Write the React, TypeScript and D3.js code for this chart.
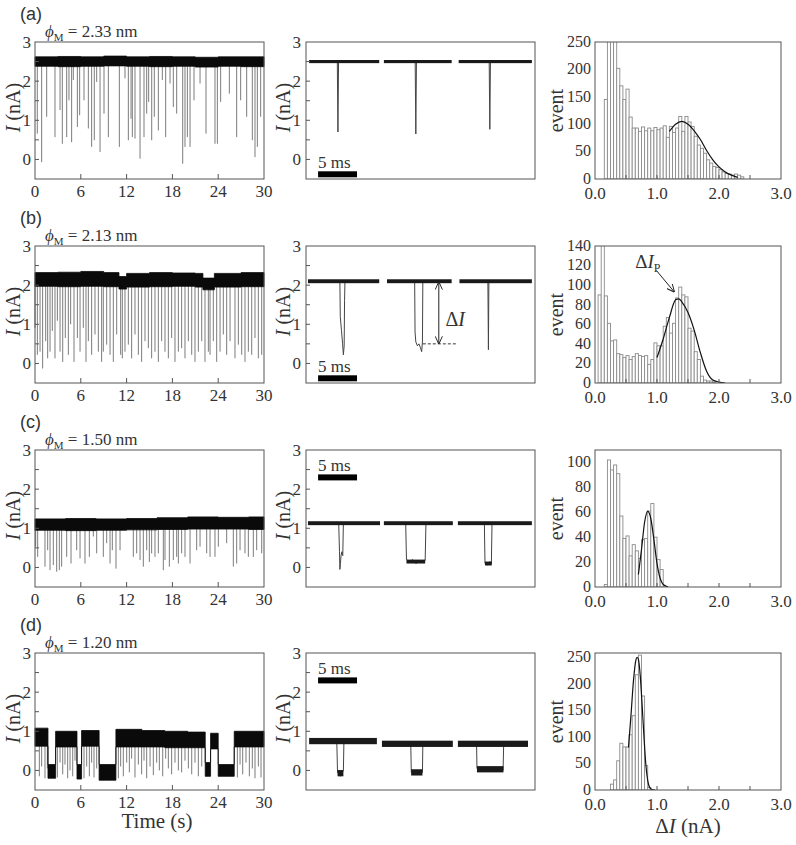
import React from "react"
import * as d3 from "d3"

type Pt = number[]

const serif = "Liberation Serif, Times New Roman, serif"
const sans = "Liberation Sans, Arial, sans-serif"
const ink = "#333"
const frameColor = "#555"

const W = 796
const H = 845
const rowTops = [42, 246, 450, 653]
const rowH = 137

// ---- column 1 : 30 s current traces ----
const timeTicks = [0, 6, 12, 18, 24, 30]
const currentTicks = [0, 1, 2, 3]
const minorCurrent = [0, 0.5, 1, 1.5, 2, 2.5]

// open-pore band envelope [t (s), low (nA), high (nA)]
const bandA = [[0, 2.38, 2.62], [3, 2.37, 2.63], [6, 2.38, 2.62], [9, 2.39, 2.64], [12, 2.38, 2.62], [15, 2.37, 2.63], [18, 2.38, 2.62], [21, 2.36, 2.61], [24, 2.38, 2.62], [27, 2.37, 2.62], [30, 2.37, 2.62]]
const bandB = [[0, 1.97, 2.32], [3, 1.96, 2.33], [6, 1.97, 2.35], [9, 1.96, 2.32], [11, 1.9, 2.22], [12, 1.95, 2.3], [15, 1.96, 2.32], [18, 1.97, 2.31], [21, 1.95, 2.3], [22, 1.88, 2.18], [23.5, 1.95, 2.3], [27, 1.96, 2.32], [30, 1.96, 2.32]]
const bandC = [[0, 0.95, 1.24], [4, 0.94, 1.25], [8, 0.95, 1.24], [12, 0.96, 1.25], [16, 0.97, 1.27], [20, 0.98, 1.29], [24, 0.98, 1.28], [28, 0.97, 1.29], [30, 0.97, 1.29]]
const bandD = [[0, 0.62, 1.08], [1.7, -0.2, 0.15], [2.7, 0.6, 1.0], [5.5, -0.22, 0.15], [6.1, 0.62, 1.02], [8.4, -0.25, 0.15], [10.6, 0.6, 1.05], [14, 0.6, 1.02], [17, 0.58, 1.0], [20, 0.58, 0.98], [22.3, -0.15, 0.2], [23.0, 0.55, 0.95], [24.0, -0.15, 0.15], [26.1, 0.6, 1.0], [30, 0.6, 1.0]]

// blockade spikes [t (s), lowest current (nA)]
const spikesA = [[0.3, 0.66], [0.87, -0.07], [1.53, 1.09], [2.62, 0.57], [3.28, 1.26], [3.58, 0.4], [4.15, 0.57], [4.45, 1.51], [4.8, 0.44], [5.02, 2.03], [5.55, 0.83], [5.85, 1.13], [6.42, 1.51], [6.99, 0.79], [7.42, 0.32], [7.77, 0.49], [8.08, 1.98], [8.52, 0.19], [9.04, 1.17], [9.61, 0.57], [11.05, 0.32], [11.79, 2.07], [12.23, 0.49], [12.58, 1.04], [12.75, 0.57], [13.1, 0.53], [13.76, 0.02], [14.28, 0.57], [14.63, 1.17], [14.89, 1.47], [15.29, 0.49], [15.63, 1.09], [16.16, 0.74], [16.68, 2.03], [17.12, 0.57], [17.69, 1.94], [18.12, 1.34], [18.56, 1.17], [19.35, -0.11], [19.65, 0.32], [19.96, 0.57], [20.31, 0.32], [20.83, 1.51], [21.62, 1.94], [22.4, 0.66], [23.58, 0.4], [23.89, 0.4], [24.32, 1.47], [25.46, 1.68], [26.42, 0.57], [26.94, 1.51], [27.73, 1.09], [28.47, 0.49], [28.82, 0.06], [29.13, 0.32], [29.56, 1.09]]
const spikesB = [[0.0, 0.91], [0.31, 0.22], [0.66, 0.3], [1.0, -0.13], [1.4, 0.57], [1.66, 0.13], [1.97, 0.3], [2.27, 0.83], [2.62, 0.13], [2.93, 1.09], [3.28, 0.3], [3.63, 0.04], [3.97, 0.65], [4.37, 0.22], [4.67, 1.0], [5.11, 0.04], [5.55, 0.65], [5.9, 0.3], [6.33, 0.91], [6.68, 0.04], [6.99, 0.57], [7.42, 0.22], [7.86, 0.74], [8.3, 0.3], [8.73, 0.04], [8.95, 0.3], [9.39, 0.48], [9.83, 0.22], [10.26, 0.04], [10.7, 0.74], [11.22, 0.22], [11.44, 0.13], [11.79, 0.3], [12.23, 0.48], [12.66, 0.13], [13.1, 0.74], [13.54, 0.22], [13.97, 0.04], [14.41, 0.57], [14.85, 0.39], [15.28, 0.13], [15.72, 0.3], [16.16, 0.04], [16.59, 0.57], [17.03, 0.3], [17.47, 0.13], [17.9, 0.65], [18.34, 0.04], [18.78, 0.3], [19.21, 0.39], [19.65, 0.13], [20.09, 0.57], [20.53, 0.22], [20.96, 0.04], [21.4, 0.3], [21.84, 0.57], [22.27, 0.04], [22.71, 0.3], [22.93, 0.22], [23.36, 0.57], [23.8, 0.04], [24.24, 0.3], [24.67, 0.74], [25.11, 0.22], [25.55, 0.57], [26.2, 0.13], [26.64, 0.48], [27.08, 0.22], [27.51, 0.04], [27.95, 0.3], [28.39, 0.22], [28.82, 0.65], [29.26, 0.13], [29.7, 0.22]]
const spikesC = [[0.09, 0.53], [0.35, 0.27], [1.31, 0.02], [1.66, 0.44], [1.97, -0.07], [2.4, 0.06], [2.84, -0.11], [3.19, -0.07], [3.49, 0.02], [4.15, 0.27], [4.72, 0.1], [5.46, 0.44], [5.9, 0.23], [6.55, 0.1], [7.12, 0.27], [7.64, 0.79], [8.08, 0.36], [8.95, 0.27], [9.39, 0.62], [9.83, 0.1], [10.13, 0.44], [10.61, -0.03], [11.14, 0.44], [12.88, 0.27], [13.32, 0.36], [13.76, 0.19], [14.19, 0.02], [14.63, 0.44], [14.98, 0.14], [15.28, 0.36], [15.72, 0.27], [16.16, 0.36], [16.81, -0.07], [17.03, 0.19], [17.6, 0.02], [18.12, 0.19], [18.56, 0.27], [18.78, 0.1], [19.21, 0.36], [19.65, 0.27], [20.31, 0.1], [21.18, 0.44], [21.62, 0.53], [22.49, 0.36], [22.93, 0.27], [23.58, 0.27], [24.02, 0.53], [25.11, 0.62], [25.98, 0.02], [26.42, 0.1], [26.86, 0.44], [27.51, 0.36], [27.95, 0.27], [28.6, 0.27], [29.04, 0.44], [29.7, 0.36]]
const spikesD = [[0.57, -0.15], [0.87, 0.1], [1.31, -0.2], [1.62, 0.05], [2.93, -0.18], [3.28, 0.2], [3.63, -0.1], [3.93, 0.15], [4.28, -0.2], [4.59, 0.0], [4.94, -0.15], [5.24, 0.25], [6.42, -0.2], [6.77, 0.1], [7.12, -0.15], [7.42, 0.2], [7.73, -0.18], [8.08, 0.05], [10.92, -0.2], [11.22, 0.1], [11.57, -0.15], [12.01, 0.2], [12.36, -0.05], [12.66, 0.3], [13.1, -0.18], [13.54, 0.15], [13.97, -0.1], [14.28, 0.25], [14.63, -0.2], [15.07, 0.1], [15.5, -0.12], [15.94, 0.2], [16.29, 0.0], [16.73, -0.15], [17.12, 0.3], [17.47, 0.05], [17.9, -0.1], [18.34, 0.2], [18.78, 0.0], [19.21, -0.05], [19.65, 0.25], [20.09, 0.05], [20.53, -0.1], [20.96, 0.2], [21.4, -0.15], [21.84, 0.1], [26.51, -0.18], [26.86, 0.15], [27.21, -0.1], [27.64, 0.2], [28.08, -0.15], [28.47, 0.05], [28.82, -0.2], [29.26, 0.1], [29.61, -0.18]]

// ---- column 2 : ms zoom of three events ----
// level stretches [t0 (ms), t1 (ms), current (nA)]
const zoomBandsA = [[0.4, 9.4, 2.5], [10.0, 18.7, 2.5], [19.6, 29.0, 2.5]]
const zoomBandsB = [[0.25, 9.4, 2.1], [10.4, 18.7, 2.1], [19.7, 29.0, 2.1]]
const zoomBandsC = [[0.25, 9.5, 1.13], [10.0, 18.85, 1.13], [19.5, 29.0, 1.13], [12.9, 15.3, 0.15], [22.98, 23.85, 0.1]]
const zoomBandsD = [[0.4, 9.1, 0.75], [9.75, 18.85, 0.68], [19.5, 28.5, 0.68], [4.05, 4.8, -0.07], [13.5, 14.95, -0.05], [21.95, 25.35, 0.03]]
// event shapes [t (ms), current (nA)]
const zoomEventsA = [
  [[4.02, 2.5], [4.1, 0.7], [4.18, 2.5]],
  [[14.02, 2.5], [14.1, 0.65], [14.18, 2.5]],
  [[23.52, 2.5], [23.6, 0.77], [23.68, 2.5]],
]
const zoomEventsB = [
  [[4.35, 2.1], [4.4, 1.2], [4.55, 0.85], [4.7, 0.5], [4.8, 0.22], [4.9, 0.45], [4.95, 1.6], [5.0, 2.1]],
  [[13.95, 2.1], [14.0, 0.8], [14.1, 0.55], [14.3, 0.45], [14.5, 0.5], [14.7, 0.4], [14.85, 0.3], [14.95, 0.55], [15.0, 2.1]],
  [[23.35, 2.1], [23.42, 0.35], [23.48, 2.1]],
]
const zoomEventsC = [
  [[4.2, 1.13], [4.3, 0.4], [4.35, -0.05], [4.42, 0.1], [4.5, 0.3], [4.6, 0.4], [4.72, 0.3], [4.8, 1.13]],
  [[12.8, 1.13], [12.9, 0.2], [13.3, 0.15], [13.7, 0.2], [14.1, 0.1], [14.5, 0.15], [14.9, 0.12], [15.3, 0.18], [15.4, 1.13]],
  [[22.9, 1.13], [22.98, 0.1], [23.3, 0.06], [23.6, 0.15], [23.8, 0.1], [23.88, 1.13]],
]
const zoomEventsD = [
  [[3.95, 0.75], [4.05, -0.05], [4.4, -0.15], [4.8, 0.0], [4.87, 0.75]],
  [[13.45, 0.68], [13.52, -0.05], [14.95, -0.05], [15.0, 0.68]],
  [[21.9, 0.68], [21.95, 0.05], [25.3, 0.0], [25.38, 0.68]],
]

// ---- column 3 : ΔI histograms (0.05 nA bins) ----
const histStartA = 0.15
const histA = [145, 300, 300, 255, 202, 170, 145, 164, 113, 93, 93, 87, 95, 88, 93, 88, 94, 90, 93, 97, 76, 96, 85, 93, 114, 87, 114, 104, 96, 78, 62, 56, 47, 35, 29, 23, 21, 17, 13, 10, 9, 7, 9, 7, 4]
const histStartB = 0.05
const histB = [90, 150, 89, 61, 43, 44, 30, 29, 26, 28, 24, 27, 30, 28, 27, 28, 19, 24, 41, 38, 38, 58, 67, 51, 61, 87, 98, 90, 88, 56, 53, 32, 24, 7, 3, 2, 2, 1]
const histStartC = 0.15
const histC = [2, 102, 94, 98, 91, 57, 39, 41, 25, 34, 29, 23, 38, 39, 61, 67, 40, 22, 14]
const histStartD = 0.25
const histD = [11, 19, 55, 88, 81, 81, 104, 140, 217, 254, 177, 46, 5]

// gaussian fit curves [ΔI (nA), events]
const fitA = [[1.2, 87], [1.3, 100], [1.4, 105], [1.5, 100], [1.6, 88], [1.7, 72], [1.8, 52], [1.9, 35], [2.0, 22], [2.1, 13], [2.2, 7], [2.3, 3]]
const fitB = [[1.0, 26], [1.1, 45], [1.2, 67], [1.3, 85], [1.35, 86], [1.4, 83], [1.5, 72], [1.6, 54], [1.7, 31], [1.8, 12], [1.9, 3], [2.0, 1], [2.1, 0]]
const fitC = [[0.7, 10], [0.75, 30], [0.8, 52], [0.85, 61], [0.9, 55], [0.95, 38], [1.0, 19], [1.05, 7], [1.1, 2], [1.18, 0]]
const fitD = [[0.54, 80], [0.58, 140], [0.62, 205], [0.66, 245], [0.68, 250], [0.7, 246], [0.73, 215], [0.76, 160], [0.79, 100], [0.82, 48], [0.85, 18], [0.88, 5], [0.92, 1], [0.97, 0]]

const histXTicks = [0, 1, 2, 3]
const histXMinor = [0.5, 1, 1.5, 2, 2.5]

const rowTags = ["(a)", "(b)", "(c)", "(d)"]
const poreSizes = ["2.33", "2.13", "1.50", "1.20"]

const rows = [
  { band: bandA, spikes: spikesA, zBands: zoomBandsA, zEvents: zoomEventsA, noise: 0.08, barAt: -0.38, hStart: histStartA, hist: histA, fit: fitA, yMax: 250, yTicks: [0, 50, 100, 150, 200, 250] },
  { band: bandB, spikes: spikesB, zBands: zoomBandsB, zEvents: zoomEventsB, noise: 0.1, barAt: -0.38, hStart: histStartB, hist: histB, fit: fitB, yMax: 140, yTicks: [0, 20, 40, 60, 80, 100, 120, 140] },
  { band: bandC, spikes: spikesC, zBands: zoomBandsC, zEvents: zoomEventsC, noise: 0.1, barAt: 2.3, hStart: histStartC, hist: histC, fit: fitC, yMax: 110, yTicks: [0, 20, 40, 60, 80, 100] },
  { band: bandD, spikes: spikesD, zBands: zoomBandsD, zEvents: zoomEventsD, noise: 0.16, barAt: 2.3, hStart: histStartD, hist: histD, fit: fitD, yMax: 258, yTicks: [0, 50, 100, 150, 200, 250] },
]

const txt = { fontFamily: serif, fill: ink }

const YLabel = ({ x, y, children }: any) => (
  <text transform={`translate(${x},${y}) rotate(-90)`} textAnchor="middle" dy="0.35em" fontSize={20} {...txt}>
    {children}
  </text>
)

const TracePanel = ({ top, band, spikes }: any) => {
  const x = d3.scaleLinear().domain([0, 30]).range([35, 264])
  const y = d3.scaleLinear().domain([-0.5, 3]).range([top + rowH, top])
  const area = d3
    .area<Pt>()
    .x((d) => x(d[0]))
    .y0((d) => y(d[1]))
    .y1((d) => y(d[2]))
    .curve(d3.curveStepAfter)
  const bis = d3.bisector((d: Pt) => d[0]).right
  const lowAt = (t: number) => band[Math.max(0, bis(band, t) - 1)][1]
  return (
    <g>
      {spikes.map(([t, m]: Pt, i: number) => (
        <line key={i} x1={x(t)} x2={x(t)} y1={y(lowAt(t) + 0.05)} y2={y(m)} stroke="#7c7c7c" strokeWidth={1} />
      ))}
      <path d={area(band) || ""} fill="#0a0a0a" stroke="#0a0a0a" strokeWidth={0.8} />
      <rect x={35} y={top} width={229} height={rowH} fill="none" stroke={frameColor} />
      {minorCurrent.map((v) => (
        <line key={v} x1={35} x2={39} y1={y(v)} y2={y(v)} stroke={frameColor} />
      ))}
      {timeTicks.slice(1, -1).map((t) => (
        <line key={t} x1={x(t)} x2={x(t)} y1={top + rowH} y2={top + rowH - 5} stroke={frameColor} />
      ))}
      {currentTicks.map((v) => (
        <text key={v} x={31} y={y(v)} dy="0.35em" textAnchor="end" fontSize={17} {...txt}>{v}</text>
      ))}
      {timeTicks.map((t) => (
        <text key={t} x={x(t)} y={top + rowH + 18} textAnchor="middle" fontSize={17} {...txt}>{t}</text>
      ))}
      <YLabel x={13} y={top + rowH / 2 - 3}>
        <tspan fontStyle="italic">I</tspan> (nA)
      </YLabel>
    </g>
  )
}

const ZoomPanel = ({ top, bands, events, noise, barAt, marks }: any) => {
  const x = d3.scaleLinear().domain([0, 29.4]).range([306, 535])
  const y = d3.scaleLinear().domain([-0.5, 3]).range([top + rowH, top])
  const line = d3.line<Pt>().x((d) => x(d[0])).y((d) => y(d[1]))
  return (
    <g>
      {events.map((ev: Pt[], i: number) => (
        <path key={i} d={line(ev) || ""} fill="none" stroke="#444" strokeWidth={1} />
      ))}
      {bands.map(([t0, t1, v]: Pt, i: number) => (
        <rect key={i} x={x(t0)} width={x(t1) - x(t0)} y={y(v + noise / 2)} height={y(v - noise / 2) - y(v + noise / 2)} fill="#1a1a1a" />
      ))}
      <rect x={x(1.55)} width={x(6.55) - x(1.55)} y={y(barAt) - 3} height={6} fill="#000" />
      <text x={x(1.55)} y={y(barAt) - 6} fontSize={17} {...txt}>5 ms</text>
      {marks && (
        <g stroke="#222" fill="none">
          <line x1={x(17.05)} x2={x(17.05)} y1={y(2.08)} y2={y(0.5)} markerStart="url(#vhead)" markerEnd="url(#vhead)" strokeWidth={1} />
          <line x1={x(15.0)} x2={x(19.4)} y1={y(0.5)} y2={y(0.5)} strokeDasharray="3,2" strokeWidth={0.9} />
          <text x={x(17.9)} y={y(0.95)} fontSize={20} {...txt} stroke="none">
            Δ<tspan fontStyle="italic">I</tspan>
          </text>
        </g>
      )}
      <rect x={306} y={top} width={229} height={rowH} fill="none" stroke={frameColor} />
      {minorCurrent.map((v) => (
        <line key={v} x1={306} x2={310} y1={y(v)} y2={y(v)} stroke={frameColor} />
      ))}
      {currentTicks.map((v) => (
        <text key={v} x={301} y={y(v)} dy="0.35em" textAnchor="end" fontSize={17} {...txt}>{v}</text>
      ))}
      <YLabel x={283} y={top + rowH / 2 - 3}>
        <tspan fontStyle="italic">I</tspan> (nA)
      </YLabel>
    </g>
  )
}

const HistPanel = ({ top, start, counts, fit, yMax, yTicks, idx, marks }: any) => {
  const x = d3.scaleLinear().domain([0, 3]).range([595, 781])
  const y = d3.scaleLinear().domain([0, yMax]).range([top + rowH, top])
  const curve = d3.line<Pt>().x((d) => x(d[0])).y((d) => y(d[1])).curve(d3.curveMonotoneX)
  const clip = `hclip${idx}`
  return (
    <g>
      <clipPath id={clip}>
        <rect x={595} y={top} width={186} height={rowH} />
      </clipPath>
      <g clipPath={`url(#${clip})`}>
        {counts.map((c: number, i: number) => {
          const b0 = start + i * 0.05
          return (
            <rect key={i} x={x(b0)} width={x(b0 + 0.05) - x(b0)} y={y(c)} height={y(0) - y(c)} fill="#fff" stroke="#8a8a8a" strokeWidth={0.9} />
          )
        })}
        <path d={curve(fit) || ""} fill="none" stroke="#111" strokeWidth={1.2} />
      </g>
      {marks && (
        <g>
          <text x={x(0.65)} y={y(118)} fontSize={19} {...txt}>
            Δ<tspan fontStyle="italic">I</tspan>
            <tspan fontSize={12} dy={4}>P</tspan>
          </text>
          <line x1={x(0.99)} y1={y(115)} x2={x(1.28)} y2={y(93)} stroke="#222" strokeWidth={1} markerEnd="url(#vhead)" />
        </g>
      )}
      <rect x={595} y={top} width={186} height={rowH} fill="none" stroke={frameColor} />
      {histXMinor.map((v) => (
        <line key={v} x1={x(v)} x2={x(v)} y1={top + rowH} y2={top + rowH - 4} stroke={frameColor} />
      ))}
      {yTicks.map((v: number) => (
        <text key={v} x={591} y={y(v)} dy="0.3em" textAnchor="end" fontSize={16} {...txt}>{v}</text>
      ))}
      {histXTicks.map((v) => (
        <text key={v} x={x(v)} y={top + rowH + 20} textAnchor="middle" fontSize={17} {...txt}>{d3.format(".1f")(v)}</text>
      ))}
      <YLabel x={556} y={top + rowH / 2}>event</YLabel>
    </g>
  )
}

const App = () => (
  <svg width={W} height={H} style={{ position: "absolute", left: 0, top: 0, background: "#fff" }}>
    <defs>
      <marker id="vhead" viewBox="0 0 10 10" refX={9.5} refY={5} markerWidth={8} markerHeight={8} orient="auto-start-reverse" markerUnits="userSpaceOnUse">
        <path d="M0,0.5 L10,5 L0,9.5" fill="none" stroke="#222" strokeWidth={1.2} />
      </marker>
    </defs>
    {rows.map((r, i) => {
      const top = rowTops[i]
      return (
        <g key={i}>
          <text x={20} y={top - 22} fontFamily={sans} fontSize={18} fill={ink}>{rowTags[i]}</text>
          <text x={45} y={top - 5} fontSize={17} {...txt}>
            <tspan fontStyle="italic">ϕ</tspan>
            <tspan fontSize={11} dy={4}>M</tspan>
            <tspan dy={-4}> = {poreSizes[i]} nm</tspan>
          </text>
          <TracePanel top={top} band={r.band} spikes={r.spikes} />
          <ZoomPanel top={top} bands={r.zBands} events={r.zEvents} noise={r.noise} barAt={r.barAt} marks={i === 1} />
          <HistPanel top={top} start={r.hStart} counts={r.hist} fit={r.fit} yMax={r.yMax} yTicks={r.yTicks} idx={i} marks={i === 1} />
        </g>
      )
    })}
    <text x={157} y={828} textAnchor="middle" fontSize={21} {...txt}>Time (s)</text>
    <text x={688} y={833} textAnchor="middle" fontSize={21} {...txt}>
      Δ<tspan fontStyle="italic">I</tspan> (nA)
    </text>
  </svg>
)

export default App
